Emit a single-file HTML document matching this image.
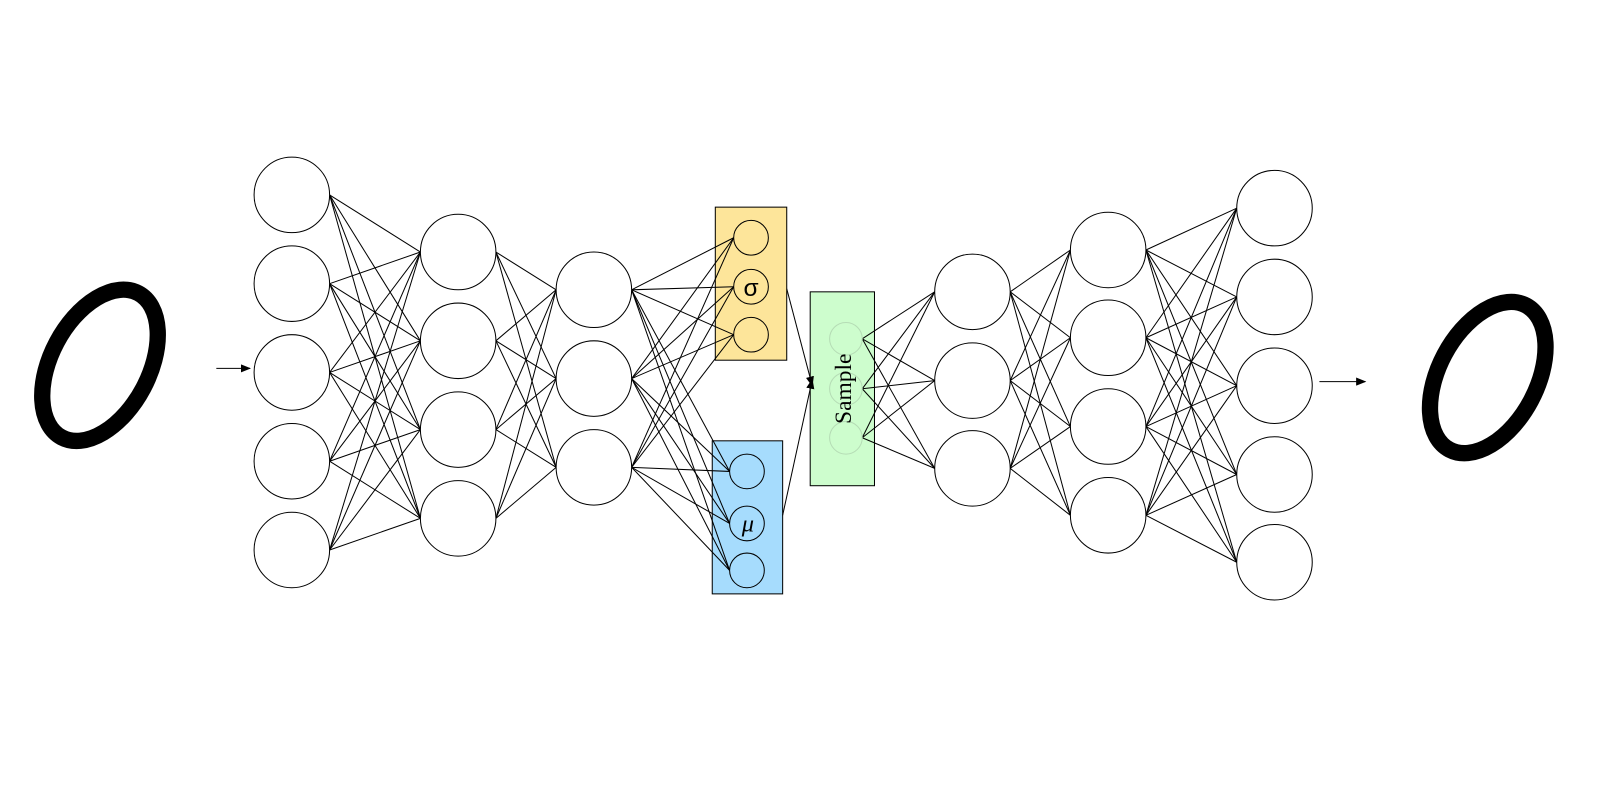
<!DOCTYPE html>
<html><head><meta charset="utf-8"><style>
html,body{margin:0;padding:0;background:#fff;width:1600px;height:800px;overflow:hidden}
svg{display:block}
</style></head><body>
<svg id="s" width="1600" height="800" viewBox="0 0 1568 784" xmlns="http://www.w3.org/2000/svg">
<defs>
<marker id="ah" markerWidth="10" markerHeight="8" refX="9" refY="4" orient="auto" markerUnits="userSpaceOnUse" viewBox="0 0 10 8">
<path d="M0,0 L10,4 L0,8 Z" fill="#000"/></marker>
</defs>
<g transform="translate(98,358) rotate(28)">
<ellipse cx="0" cy="0" rx="48" ry="80" fill="none" stroke="#000" stroke-width="16"/>
</g>
<g transform="translate(1458,370) rotate(28)">
<ellipse cx="0" cy="0" rx="48" ry="80" fill="none" stroke="#000" stroke-width="16"/>
</g>
<rect x="701" y="203" width="70" height="150" fill="#fde59a" stroke="#000" stroke-width="1"/>
<rect x="698" y="432" width="69" height="150" fill="#a6dcfd" stroke="#000" stroke-width="1"/>
<rect x="794" y="286" width="63" height="190" fill="#cdfdcd" stroke="#000" stroke-width="1"/>
<g id="lines" stroke="#000" stroke-width="1" fill="none"></g>
<g id="nodes" stroke="#000" stroke-width="1"></g>
<circle cx="829" cy="332" r="16" fill="none" stroke="#b5dcb5"/>
<circle cx="829" cy="381" r="16" fill="none" stroke="#b5dcb5"/>
<circle cx="829" cy="429" r="16" fill="none" stroke="#b5dcb5"/>
<text x="736" y="290" font-family="Liberation Sans, sans-serif" font-size="24" text-anchor="middle">σ</text>
<text x="733" y="521" font-family="Liberation Serif, serif" font-size="24" font-style="italic" text-anchor="middle">μ</text>
<text transform="translate(834,381) rotate(-90)" font-family="Liberation Serif, serif" font-size="23" text-anchor="middle">Sample</text>
<line x1="212" y1="361" x2="245" y2="361" stroke="#000" marker-end="url(#ah)"/>
<line x1="1293" y1="374" x2="1338" y2="374" stroke="#000" marker-end="url(#ah)"/>
<line x1="771" y1="283" x2="796" y2="378" stroke="#000" marker-end="url(#ah)"/>
<line x1="767" y1="505" x2="796" y2="372" stroke="#000" marker-end="url(#ah)"/>
</svg>
<script>
var NS="http://www.w3.org/2000/svg";
function L(x,ys,r,fill){return ys.map(function(y){return {x:x,y:y,r:r,fill:fill||"#fff"}})}
var l1=L(286,[191,278,365,452,539],37),
l2=L(449,[247,334,421,508],37),
l3=L(582,[284,371,458],37),
sg=L(736,[233,281,328],17,"#fde59a"),
mu=L(732,[462,513,559],17,"#a6dcfd"),
smp=L(829,[332,381,429],16,"none"),
d1=L(953,[286,373,459],37),
d2=L(1086,[245,331,418,505],37),
d3=L(1249,[204,291,378,465,551],37);
var lg=document.getElementById("lines"),ng=document.getElementById("nodes");
function conn(A,B){A.forEach(function(a){B.forEach(function(b){
var e=document.createElementNS(NS,"line");
e.setAttribute("x1",a.x+a.r);e.setAttribute("y1",a.y);
e.setAttribute("x2",b.x-b.r);e.setAttribute("y2",b.y);lg.appendChild(e);});});}
conn(l1,l2);conn(l2,l3);conn(l3,sg);conn(l3,mu);conn(smp,d1);conn(d1,d2);conn(d2,d3);
[l1,l2,l3,sg,mu,d1,d2,d3].forEach(function(Ls){Ls.forEach(function(n){
var c=document.createElementNS(NS,"circle");c.setAttribute("cx",n.x);c.setAttribute("cy",n.y);
c.setAttribute("r",n.r);c.setAttribute("fill",n.fill);ng.appendChild(c);});});
</script>
</body></html>
